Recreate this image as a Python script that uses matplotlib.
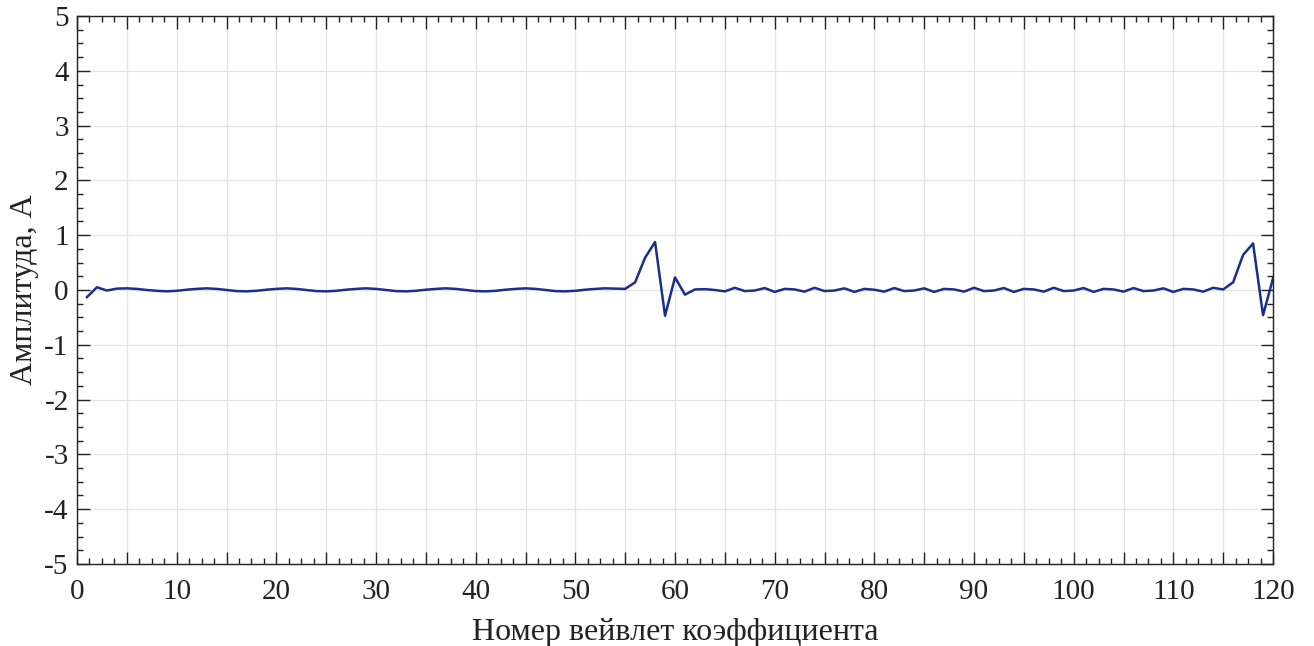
import numpy as np
import matplotlib.pyplot as plt
from matplotlib.ticker import MultipleLocator, FuncFormatter

# номера коэффициентов и амплитуды
coef_num = list(range(1, 121))
amp_first = [
    -0.13, 0.05, -0.01, 0.025, 0.03, 0.02, 0.0, -0.015, -0.025, -0.015,
    0.005, 0.02, 0.03, 0.02, 0.0, -0.02, -0.025, -0.015, 0.005, 0.02,
    0.03, 0.02, 0.0, -0.02, -0.025, -0.015, 0.005, 0.02, 0.03, 0.02,
    0.0, -0.02, -0.025, -0.015, 0.005, 0.02, 0.03, 0.02, 0.0, -0.02,
    -0.025, -0.015, 0.005, 0.02, 0.03, 0.02, 0.0, -0.02, -0.025, -0.015,
    0.005, 0.02, 0.03, 0.025, 0.02,
]
amp_burst1 = [0.14, 0.59, 0.876, -0.47, 0.23, -0.085]
amp_detail = [
    0.01, 0.015, 0.0, -0.025, 0.04, -0.02, -0.01, 0.035, -0.035, 0.02,
    0.01, -0.03, 0.04, -0.02, -0.01, 0.03, -0.035, 0.02, 0.005, -0.03,
    0.035, -0.02, -0.01, 0.03, -0.035, 0.02, 0.01, -0.03, 0.04, -0.02,
    -0.01, 0.035, -0.035, 0.02, 0.01, -0.03, 0.04, -0.02, -0.01, 0.035,
    -0.035, 0.02, 0.01, -0.03, 0.035, -0.02, -0.01, 0.03, -0.035, 0.02,
    0.01, -0.03, 0.04, 0.01,
]
amp_burst2 = [0.14, 0.64, 0.85, -0.46, 0.21]
amplitude = amp_first + amp_burst1 + amp_detail + amp_burst2

plt.rcParams['font.family'] = ['Liberation Serif', 'DejaVu Serif']

fig = plt.figure(figsize=(13.14, 6.46), dpi=100)
ax = fig.add_axes([0.0586, 0.127, 0.9102, 0.8482])

ax.plot(coef_num, amplitude, color='#1b2e8e', linewidth=1.8)

ax.set_xlim(0, 120)
ax.set_ylim(-5, 5)
ax.xaxis.set_major_locator(MultipleLocator(5))
ax.xaxis.set_minor_locator(MultipleLocator(1.25))
ax.xaxis.set_major_formatter(FuncFormatter(lambda v, p: f'{int(v)}' if int(round(v)) % 10 == 0 else ''))
ax.yaxis.set_major_locator(MultipleLocator(1))
ax.yaxis.set_minor_locator(MultipleLocator(0.25))
ax.yaxis.set_major_formatter(FuncFormatter(lambda v, p: f'{int(round(v))}'))

ax.grid(True, which='major', color='#e3e3e3', linewidth=0.9)
ax.set_axisbelow(True)
ax.tick_params(which='both', direction='in', top=True, right=True, labelsize=21, colors='#222222')
ax.tick_params(axis='x', which='major', pad=11)
ax.tick_params(axis='y', which='major', pad=6)
ax.tick_params(which='major', length=9, width=1.0)
ax.tick_params(which='minor', length=4.5, width=1.0)
for s in ax.spines.values():
    s.set_color('#222222')
    s.set_linewidth(1.0)

ax.set_xlabel('Номер вейвлет коэффициента', fontsize=23, color='#222222', labelpad=9)
ax.set_ylabel('Амплитуда, А', fontsize=23, color='#222222', labelpad=4)

fig.savefig('out.png', dpi=100)
